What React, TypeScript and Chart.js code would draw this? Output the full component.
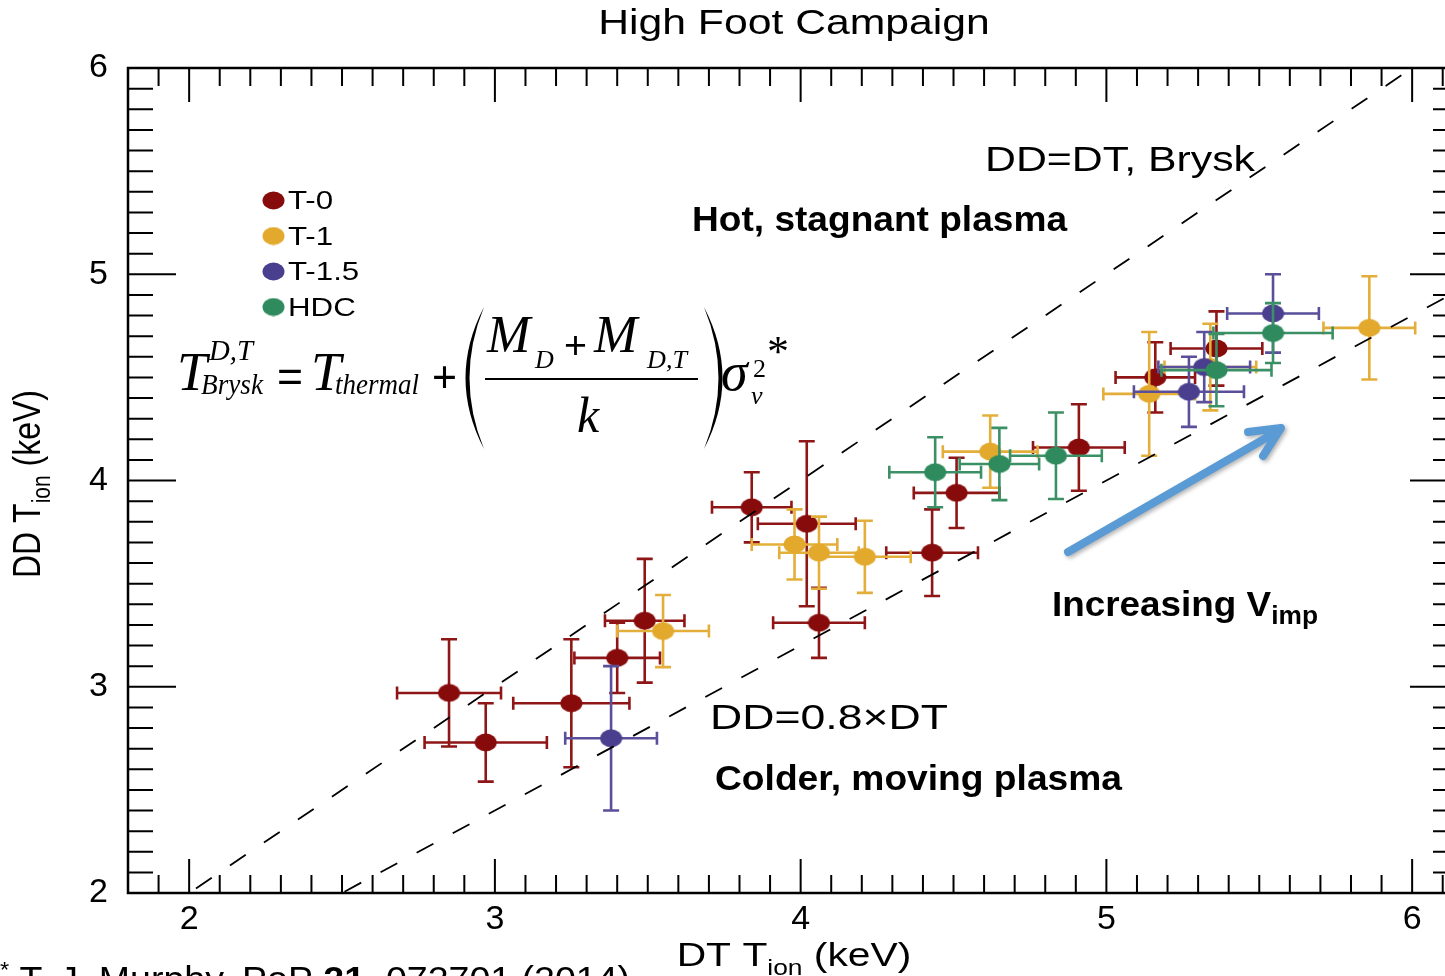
import React, { useEffect, useRef } from "react";
import { Chart, registerables } from "chart.js";

Chart.register(...registerables);

// ---------- data ----------
const seriesLabels = ["T-0", "T-1", "T-1.5", "HDC"];
const markerColors = ["#870b0b", "#e2a92c", "#4a3e8e", "#2f8b5d"];
const barColors = ["#8e1616", "#e3ae3a", "#5a4f9b", "#3b9066"];

const t0X = [2.85, 2.97, 3.25, 3.4, 3.49, 3.84, 4.02, 4.06, 4.43, 4.51, 4.91, 5.16, 5.36];
const t0Y = [2.97, 2.73, 2.92, 3.14, 3.32, 3.87, 3.79, 3.31, 3.65, 3.94, 4.16, 4.5, 4.64];
const t0XErr = [0.17, 0.2, 0.19, 0.14, 0.13, 0.13, 0.16, 0.15, 0.15, 0.14, 0.15, 0.13, 0.15];
const t0YErr = [0.26, 0.19, 0.31, 0.17, 0.3, 0.17, 0.4, 0.17, 0.21, 0.17, 0.21, 0.17, 0.18];

const t1X = [3.55, 3.98, 4.06, 4.21, 4.62, 5.14, 5.34, 5.86];
const t1Y = [3.27, 3.69, 3.65, 3.63, 4.14, 4.42, 4.55, 4.74];
const t1XErr = [0.15, 0.14, 0.13, 0.15, 0.155, 0.15, 0.15, 0.15];
const t1YErr = [0.175, 0.17, 0.175, 0.175, 0.175, 0.3, 0.21, 0.25];

const t15X = [3.38, 5.27, 5.32, 5.545];
const t15Y = [2.75, 4.43, 4.55, 4.81];
const t15XErr = [0.15, 0.18, 0.15, 0.15];
const t15YErr = [0.35, 0.17, 0.17, 0.19];

const hdcX = [4.44, 4.65, 4.835, 5.36, 5.545];
const hdcY = [4.04, 4.08, 4.12, 4.535, 4.715];
const hdcXErr = [0.15, 0.13, 0.15, 0.18, 0.195];
const hdcYErr = [0.17, 0.175, 0.21, 0.175, 0.145];

// reference lines: DD = DT (Brysk) and DD = 0.8 x DT
const refLineX = [1.8, 6.2];
const bryskLineY = [1.8, 6.2];
const coldLineY = [1.44, 4.96];

const xTickValues = [2, 3, 4, 5, 6];
const yTickValues = [2, 3, 4, 5, 6];

// ---------- helpers ----------
const SANS = '"Liberation Sans", Arial, sans-serif';
const SERIF = '"Liberation Serif", "Times New Roman", serif';

function makeMarker(color: string, w = 23, h = 19) {
  const c = document.createElement("canvas");
  c.width = w;
  c.height = h;
  const g = c.getContext("2d")!;
  g.fillStyle = color;
  g.beginPath();
  g.ellipse(w / 2, h / 2, w / 2 - 0.5, h / 2 - 0.5, 0, 0, Math.PI * 2);
  g.fill();
  return c;
}

type Run = { t: string; f: string; dy?: number };

function runsWidth(ctx: CanvasRenderingContext2D, runs: Run[]) {
  let w = 0;
  for (const r of runs) {
    ctx.font = r.f;
    w += ctx.measureText(r.t).width;
  }
  return w;
}

function drawRuns(
  ctx: CanvasRenderingContext2D,
  runs: Run[],
  x: number,
  y: number,
  sx = 1,
  align: "left" | "center" = "left",
  sy = 1
) {
  ctx.save();
  ctx.textBaseline = "alphabetic";
  ctx.textAlign = "left";
  const w = runsWidth(ctx, runs);
  ctx.translate(x, y);
  ctx.scale(sx, sy);
  let cx = align === "center" ? -w / 2 : 0;
  for (const r of runs) {
    ctx.font = r.f;
    ctx.fillText(r.t, cx, r.dy || 0);
    cx += ctx.measureText(r.t).width;
  }
  ctx.restore();
}

function drawFit(ctx: CanvasRenderingContext2D, runs: Run[], x: number, y: number, width: number) {
  const w = runsWidth(ctx, runs);
  drawRuns(ctx, runs, x, y, width / w);
}

function pieceFit(ctx: CanvasRenderingContext2D, t: string, f: string, x: number, y: number, width?: number) {
  ctx.font = f;
  const w = ctx.measureText(t).width;
  drawRuns(ctx, [{ t, f }], x, y, width ? width / w : 1);
}

function line(ctx: CanvasRenderingContext2D, x0: number, y0: number, x1: number, y1: number) {
  ctx.moveTo(x0, y0);
  ctx.lineTo(x1, y1);
}

const decorPlugin = {
  id: "decor",
  beforeDatasetDraw(chart: any, args: any) {
    const ds = chart.data.datasets[args.index];
    if (!ds.errX) return;
    const { ctx } = chart;
    const xs = chart.scales.x;
    const ys = chart.scales.y;
    ctx.save();
    ctx.strokeStyle = ds.barColor;
    ctx.lineWidth = 2.6;
    ctx.beginPath();
    ds.data.forEach((p: any, i: number) => {
      const px = xs.getPixelForValue(p.x);
      const py = ys.getPixelForValue(p.y);
      const x0 = xs.getPixelForValue(p.x - ds.errX[i]);
      const x1 = xs.getPixelForValue(p.x + ds.errX[i]);
      const y0 = ys.getPixelForValue(p.y - ds.errY[i]);
      const y1 = ys.getPixelForValue(p.y + ds.errY[i]);
      line(ctx, x0, py, x1, py);
      line(ctx, px, y0, px, y1);
      line(ctx, x0, py - 6.5, x0, py + 6.5);
      line(ctx, x1, py - 6.5, x1, py + 6.5);
      line(ctx, px - 8, y0, px + 8, y0);
      line(ctx, px - 8, y1, px + 8, y1);
    });
    ctx.stroke();
    ctx.restore();
  },
  afterDraw(chart: any) {
    const { ctx, chartArea } = chart;
    const { left, right, top, bottom } = chartArea;
    const xs = chart.scales.x;
    const ys = chart.scales.y;
    ctx.save();
    ctx.fillStyle = "#000";
    ctx.strokeStyle = "#000";

    // frame
    ctx.lineWidth = 2.5;
    ctx.strokeRect(left, top, right - left, bottom - top);

    // inward ticks
    ctx.lineWidth = 2;
    ctx.beginPath();
    for (let k = 18; k <= 62; k++) {
      const v = k / 10;
      if (v > xs.max) break;
      const px = xs.getPixelForValue(v);
      const L = k % 10 === 0 ? 34 : 18;
      line(ctx, px, bottom, px, bottom - L);
      line(ctx, px, top, px, top + L);
    }
    for (let k = 20; k <= 60; k++) {
      const py = ys.getPixelForValue(k / 10);
      const L = k % 10 === 0 ? 48 : 25;
      line(ctx, left, py, left + L, py);
      line(ctx, right, py, right - L, py);
    }
    ctx.stroke();

    // title
    drawRuns(ctx, [{ t: "High Foot Campaign", f: `35px ${SANS}` }], 794, 34, 1.22, "center");

    // x axis title
    drawRuns(
      ctx,
      [
        { t: "DT T", f: `34px ${SANS}` },
        { t: "ion", f: `22px ${SANS}`, dy: 9 },
        { t: " (keV)", f: `34px ${SANS}` },
      ],
      794,
      966,
      1.2,
      "center"
    );

    // y axis title
    ctx.save();
    ctx.translate(40, 484);
    ctx.rotate(-Math.PI / 2);
    drawRuns(
      ctx,
      [
        { t: "DD T", f: `32px ${SANS}` },
        { t: "ion", f: `21px ${SANS}`, dy: 8 },
        { t: " (keV)", f: `32px ${SANS}` },
      ],
      0,
      0,
      1,
      "center",
      1.2
    );
    ctx.restore();

    // legend
    chart.data.datasets.forEach((ds: any) => {
      if (!ds.errX) return;
      const idx = ds.seriesIndex;
      const cy = 200 + idx * 35.5;
      ctx.drawImage(ds.pointStyle, 273.5 - 11.5, cy - 9);
      ctx.fillStyle = "#000";
      drawRuns(ctx, [{ t: ds.label, f: `25px ${SANS}` }], 288, cy + 9, 1.25);
    });

    // annotations
    ctx.fillStyle = "#000";
    drawFit(ctx, [{ t: "DD=DT, Brysk", f: `35px ${SANS}` }], 985, 171, 270);
    drawFit(ctx, [{ t: "Hot, stagnant plasma", f: `bold 35px ${SANS}` }], 692, 231, 375);
    drawFit(ctx, [{ t: "DD=0.8\u00d7DT", f: `35px ${SANS}` }], 710, 729, 238);
    drawFit(ctx, [{ t: "Colder, moving plasma", f: `bold 35px ${SANS}` }], 715, 790, 407);
    drawFit(
      ctx,
      [
        { t: "Increasing V", f: `bold 35px ${SANS}` },
        { t: "imp", f: `bold 25px ${SANS}`, dy: 8 },
      ],
      1052,
      616,
      266
    );

    // footnote (cut by the page edge)
    drawFit(
      ctx,
      [
        { t: "*", f: `22px ${SANS}`, dy: -14 },
        { t: " T. J. Murphy, PoP ", f: `35px ${SANS}` },
        { t: "21", f: `bold 35px ${SANS}` },
        { t: ", 072701 (2014)", f: `35px ${SANS}` },
      ],
      0,
      991,
      630
    );

    // equation
    const TI = (s: number) => `italic ${s}px ${SERIF}`;
    const TR = (s: number) => `${s}px ${SERIF}`;
    const SB = (s: number) => `${s}px ${SANS}`;
    pieceFit(ctx, "T", TI(54), 177, 390);
    pieceFit(ctx, "D,T", TI(30), 209, 360, 44);
    pieceFit(ctx, "Brysk", TI(30), 201, 394, 62);
    pieceFit(ctx, "=", SB(44), 277, 392, 26);
    pieceFit(ctx, "T", TI(54), 311, 390);
    pieceFit(ctx, "thermal", TI(30), 335, 394, 84);
    pieceFit(ctx, "+", SB(44), 432, 392, 25);
    pieceFit(ctx, "M", TI(52), 487, 352);
    pieceFit(ctx, "D", TI(26), 535, 368);
    pieceFit(ctx, "+", SB(38), 564, 358, 23);
    pieceFit(ctx, "M", TI(52), 594, 352);
    pieceFit(ctx, "D,T", TI(25), 647, 368, 40);
    pieceFit(ctx, "k", TI(50), 577, 432);
    pieceFit(ctx, "\u03c3", TI(54), 721, 390);
    pieceFit(ctx, "2", TR(26), 753, 377);
    pieceFit(ctx, "v", TI(26), 751, 404);
    pieceFit(ctx, "*", TR(44), 767, 366);
    // fraction bar
    ctx.lineWidth = 2;
    ctx.beginPath();
    line(ctx, 485, 379, 698, 379);
    ctx.stroke();
    // parentheses
    ctx.beginPath();
    ctx.moveTo(484, 307);
    ctx.quadraticCurveTo(447, 378, 484, 449);
    ctx.quadraticCurveTo(455, 378, 484, 307);
    ctx.fill();
    ctx.beginPath();
    ctx.moveTo(704, 307);
    ctx.quadraticCurveTo(741, 378, 704, 449);
    ctx.quadraticCurveTo(733, 378, 704, 307);
    ctx.fill();

    // arrow
    ctx.strokeStyle = "#5b9bd5";
    ctx.lineWidth = 8;
    ctx.lineCap = "round";
    ctx.lineJoin = "round";
    ctx.shadowColor = "rgba(0,0,0,0.3)";
    ctx.shadowBlur = 4;
    ctx.shadowOffsetX = 2;
    ctx.shadowOffsetY = 2;
    ctx.beginPath();
    ctx.moveTo(1068, 552);
    ctx.lineTo(1278, 431);
    ctx.moveTo(1248, 432);
    ctx.lineTo(1281, 428);
    ctx.lineTo(1263, 456);
    ctx.stroke();

    ctx.restore();
  },
};

function pts(xs: number[], ys: number[]) {
  return xs.map((x, i) => ({ x, y: ys[i] }));
}

export default function App() {
  const ref = useRef<HTMLCanvasElement | null>(null);

  useEffect(() => {
    const canvas = ref.current!;
    const series = [
      { x: t0X, y: t0Y, ex: t0XErr, ey: t0YErr },
      { x: t1X, y: t1Y, ex: t1XErr, ey: t1YErr },
      { x: t15X, y: t15Y, ex: t15XErr, ey: t15YErr },
      { x: hdcX, y: hdcY, ex: hdcXErr, ey: hdcYErr },
    ];
    const scatterSets: any[] = series.map((s, i) => ({
      type: "scatter",
      label: seriesLabels[i],
      data: pts(s.x, s.y),
      errX: s.ex,
      errY: s.ey,
      seriesIndex: i,
      barColor: barColors[i],
      pointStyle: makeMarker(markerColors[i]),
      pointRadius: 10,
      backgroundColor: markerColors[i],
      borderColor: markerColors[i],
      order: 4 - i,
    }));
    const lineSets: any[] = [
      {
        type: "line",
        label: "DD=DT",
        data: pts(refLineX, bryskLineY),
        borderColor: "#000",
        borderWidth: 1.8,
        borderDash: [19, 22],
        pointRadius: 0,
        fill: false,
        order: 0,
      },
      {
        type: "line",
        label: "DD=0.8DT",
        data: pts(refLineX, coldLineY),
        borderColor: "#000",
        borderWidth: 1.8,
        borderDash: [19, 22],
        pointRadius: 0,
        fill: false,
        order: 0,
      },
    ];

    const chart = new Chart(canvas, {
      type: "scatter",
      data: { datasets: [...scatterSets, ...lineSets] },
      options: {
        animation: false,
        responsive: false,
        devicePixelRatio: 1,
        layout: { padding: { left: 0, top: 68, right: 22, bottom: 0 } },
        plugins: {
          legend: { display: false },
          tooltip: { enabled: false },
          title: { display: false },
        },
        scales: {
          x: {
            type: "linear",
            min: 1.8,
            max: 6.15,
            bounds: "data",
            afterFit: (s: any) => {
              s.height = 107;
            },
            afterBuildTicks: (s: any) => {
              s.ticks = xTickValues.map((v) => ({ value: v }));
            },
            grid: { display: false, drawTicks: false },
            border: { display: false },
            ticks: {
              color: "#000",
              padding: 6,
              maxRotation: 0,
              font: { family: "Liberation Sans", size: 34 },
            },
          },
          y: {
            type: "linear",
            min: 2,
            max: 6,
            bounds: "data",
            afterFit: (s: any) => {
              s.width = 128;
            },
            afterBuildTicks: (s: any) => {
              s.ticks = yTickValues.map((v) => ({ value: v }));
            },
            grid: { display: false, drawTicks: false },
            border: { display: false },
            ticks: {
              color: "#000",
              padding: 20,
              font: { family: "Liberation Sans", size: 34 },
            },
          },
        },
      } as any,
      plugins: [decorPlugin as any],
    });
    return () => chart.destroy();
  }, []);

  return (
    <div
      style={{
        position: "fixed",
        left: 0,
        top: 0,
        width: 1445,
        height: 976,
        overflow: "hidden",
        background: "#fff",
      }}
    >
      <canvas ref={ref} width={1480} height={1000} style={{ width: 1480, height: 1000, display: "block" }} />
    </div>
  );
}
